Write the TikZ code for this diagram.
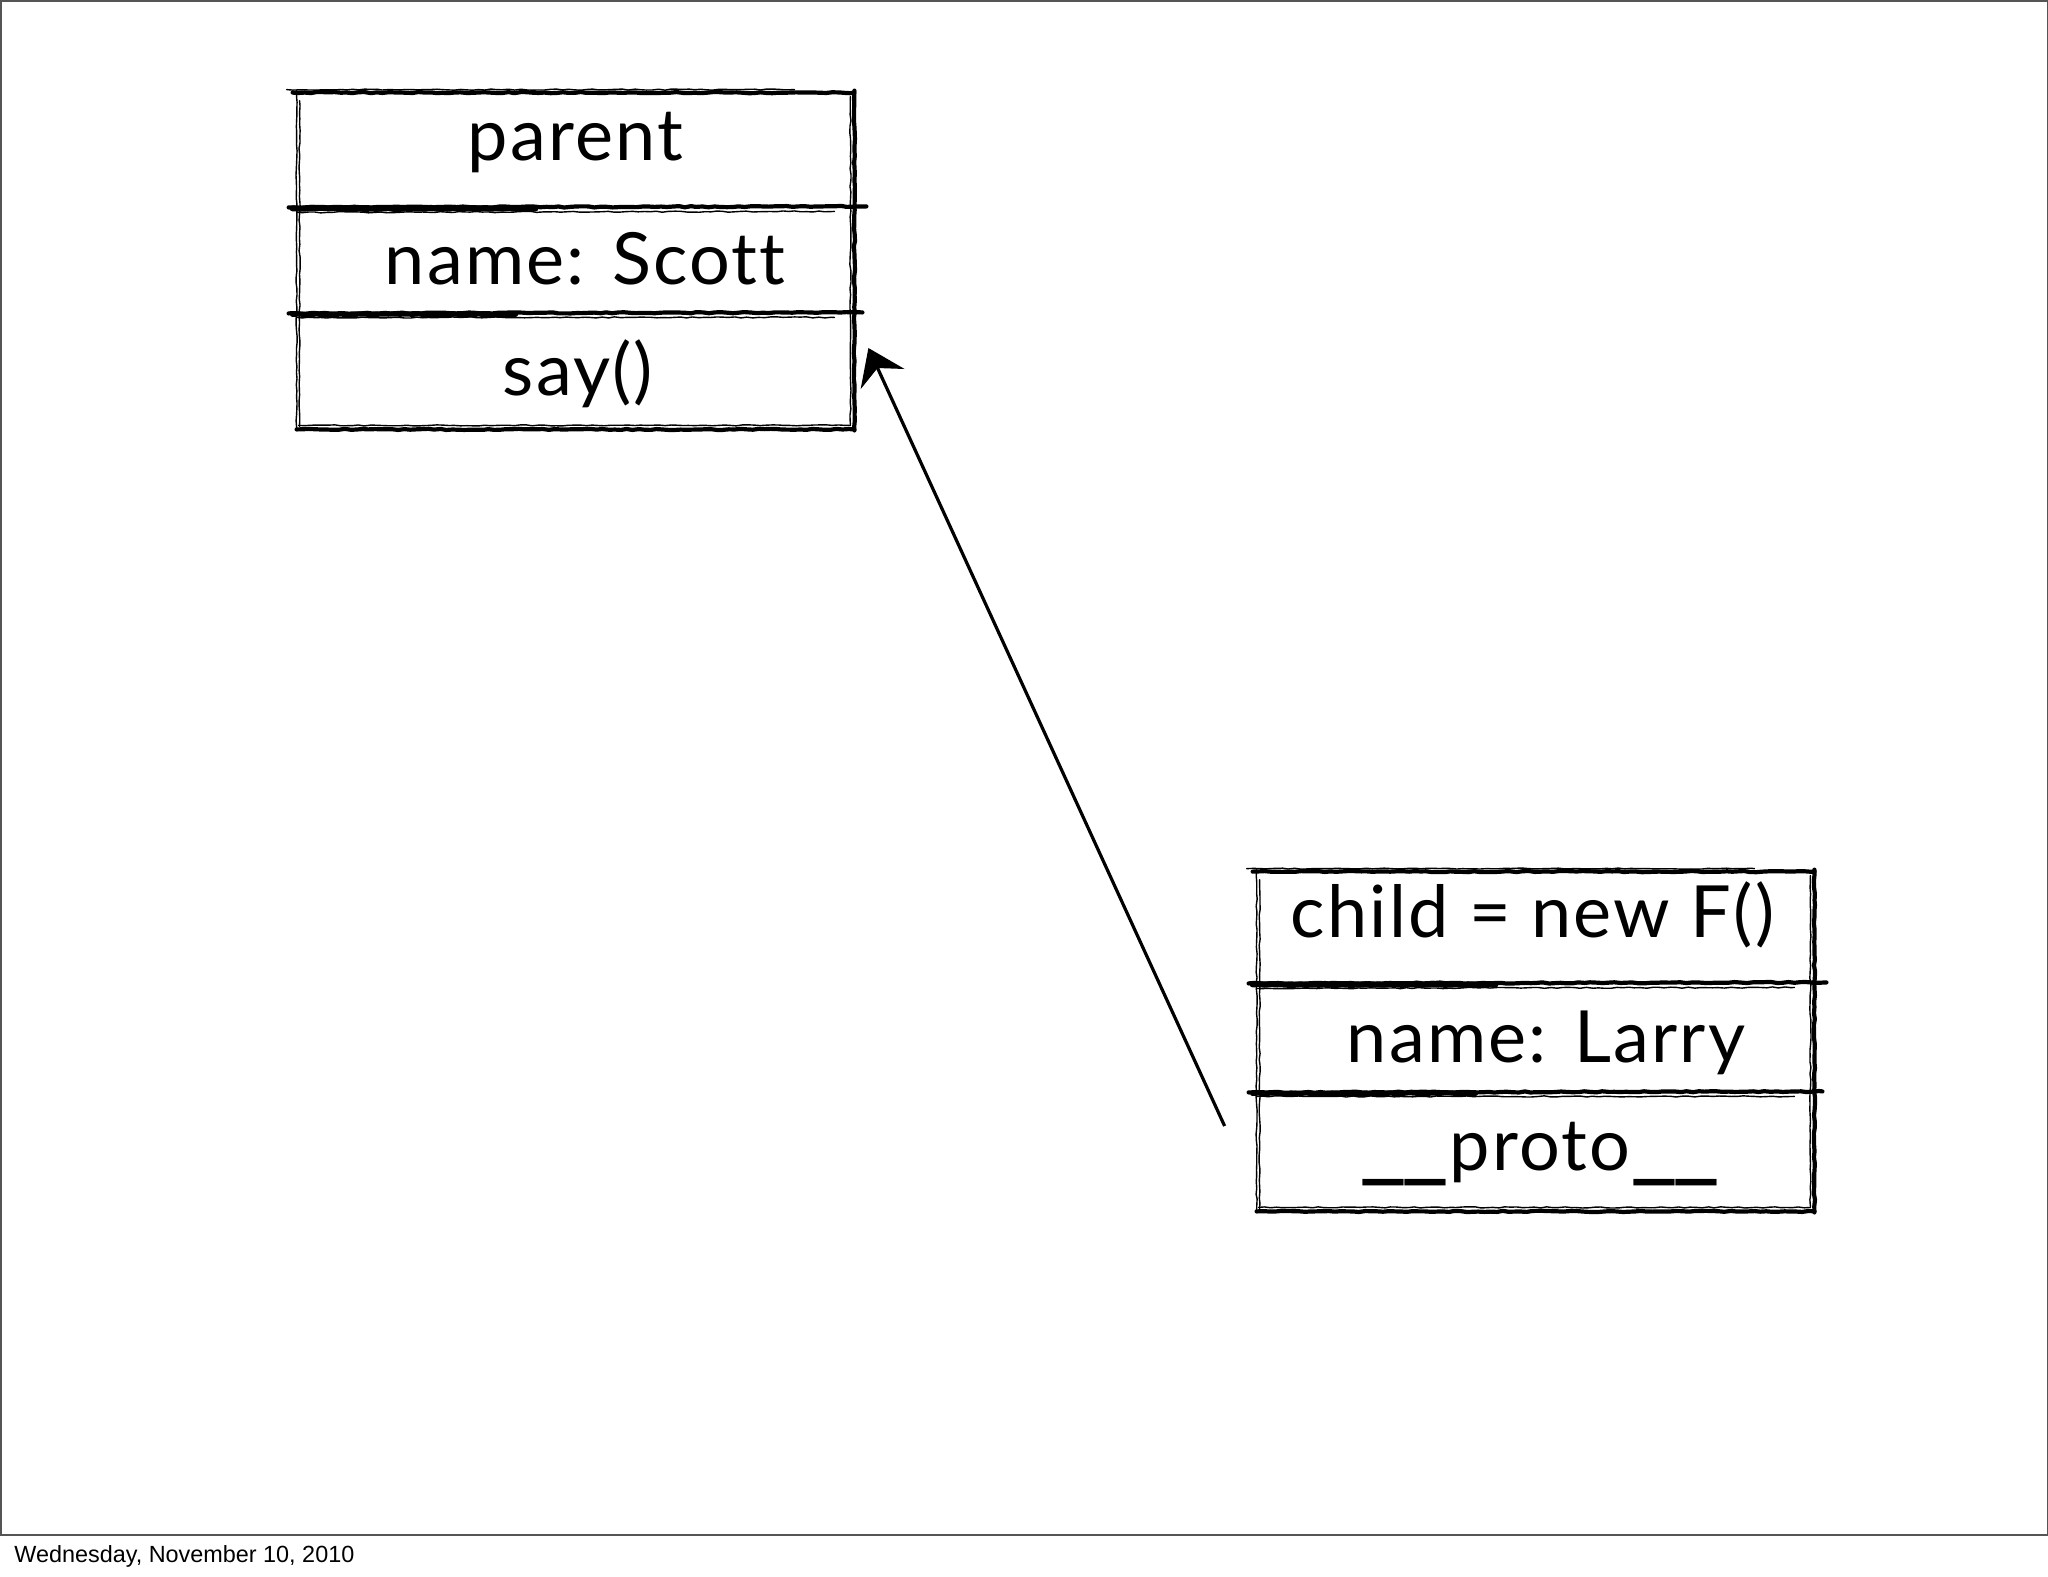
\documentclass[tikz,border=0pt]{standalone}
\usepackage{fontspec}
\setmainfont{Lato}[Ligatures=NoCommon]
\newfontfamily\boxfont{Lato}[Ligatures=NoCommon, LetterSpace=3]
\newfontfamily\datefont{Liberation Sans}
\usetikzlibrary{calc,arrows.meta,decorations.pathmorphing}
\definecolor{framegray}{RGB}{85,85,85}
\newcommand{\wideunders}{\scalebox{1.45}[1.5]{\rmfamily\_\kern-0.05em\_}}
\begin{document}
\begin{tikzpicture}[x=0.5pt,y=-0.5pt,
  sec/.style={minimum width=278.5pt, inner sep=0pt, draw=none},
  lbl/.style={anchor=base, inner sep=0pt, font=\boxfont\fontsize{36pt}{42pt}\selectfont},
  rough/.style={decorate, decoration={random steps, segment length=3pt, amplitude=0.3pt}, line cap=round, line join=round},
  heavy/.style={rough, line width=2.1pt},
  light/.style={rough, line width=0.7pt},
  frame/.style={draw=framegray, line width=0.75pt},
  arrowline/.style={line width=1.6pt, -{Stealth[length=17pt,width=24pt,inset=6pt]}},
]
\pgfmathsetseed{42}
\useasboundingbox (0,0) rectangle (2048,1576);
\draw[frame] (0.75,0.75) rectangle (2047.25,1535);

% parent sections
\node[sec, minimum height=57pt] (p1) at (575.5,150) {};
\node[sec, minimum height=53pt] (p2) at (575.5,260) {};
\node[sec, minimum height=57.5pt] (p3) at (575.5,370.5) {};
% child sections
\node[sec, minimum height=55.5pt] (c1) at (1535.5,927.5) {};
\node[sec, minimum height=54.5pt] (c2) at (1535.5,1037.5) {};
\node[sec, minimum height=59pt] (c3) at (1535.5,1151) {};

% labels
\node[lbl] (tp1) at ($(p1.center)+(0,10)$) {parent};
\node[lbl] (tp2) at ($(p2.center)+(9.5,24)$) {name: Scott};
\node[lbl] (tp3) at ($(p3.center)+(2.5,24.5)$) {say()};
\node[lbl] (tc1) at ($(c1.center)+(-3,9.5)$) {child = new F()};
\node[lbl] (tc2) at ($(c2.center)+(10.5,24.5)$) {name: Larry};
\node[lbl] (tc3) at ($(c3.center)+(4.5,19)$) {\wideunders proto\wideunders};

% sketchy boxes
\foreach \b in {p,c} {
  % top
  \draw[heavy] ($(\b1.north west)+(-4,0)$) -- (\b1.north east);
  \draw[light] ($(\b1.north west)+(-10,-3)$) -- ($(\b1.north east)+(-60,-3)$);
  % right
  \draw[heavy] ($(\b1.north east)+(0,-2)$) -- ($(\b3.south east)+(0,2)$);
  \draw[light] ($(\b1.north east)+(-4,4)$) -- ($(\b3.south east)+(-4,-4)$);
  % bottom
  \draw[heavy] ($(\b3.south west)+(0,1)$) -- ($(\b3.south east)+(0,1)$);
  \draw[light] ($(\b3.south west)+(2,-3)$) -- ($(\b3.south east)+(-4,-3)$);
  % left
  \draw[light] ($(\b1.north west)+(0,-2)$) -- ($(\b3.south west)+(0,2)$);
  \draw[light] ($(\b1.north west)+(3,8)$) -- ($(\b3.south west)+(3,-2)$);
  % dividers
  \draw[heavy] ($(\b1.south west)+(-8,0)$) -- ($(\b1.south east)+(12,-1)$);
  \draw[rough, line width=3pt] ($(\b1.south west)+(-4,1)$) -- ($(\b1.south)+(-40,1)$);
  \draw[light] ($(\b1.south west)+(0,5)$) -- ($(\b1.south east)+(-20,4)$);
  \draw[heavy] ($(\b2.south west)+(-8,0)$) -- ($(\b2.south east)+(8,-1)$);
  \draw[rough, line width=2.6pt] ($(\b2.south west)+(-4,1)$) -- ($(\b2.south)+(-60,1)$);
  \draw[light] ($(\b2.south west)+(0,4)$) -- ($(\b2.south east)+(-20,4)$);
}

% connector
\coordinate (as) at ($(c3.west)+(-32,-25)$);
\coordinate (ae) at ($(p3.east)+(14,-22.5)$);
\draw[arrowline] (as) -- (ae);

% date
\node[anchor=base west, inner sep=0pt, font=\datefont\fontsize{11.7pt}{14pt}\selectfont] (date) at (14,1562) {Wednesday, November 10, 2010};
\end{tikzpicture}
\end{document}
